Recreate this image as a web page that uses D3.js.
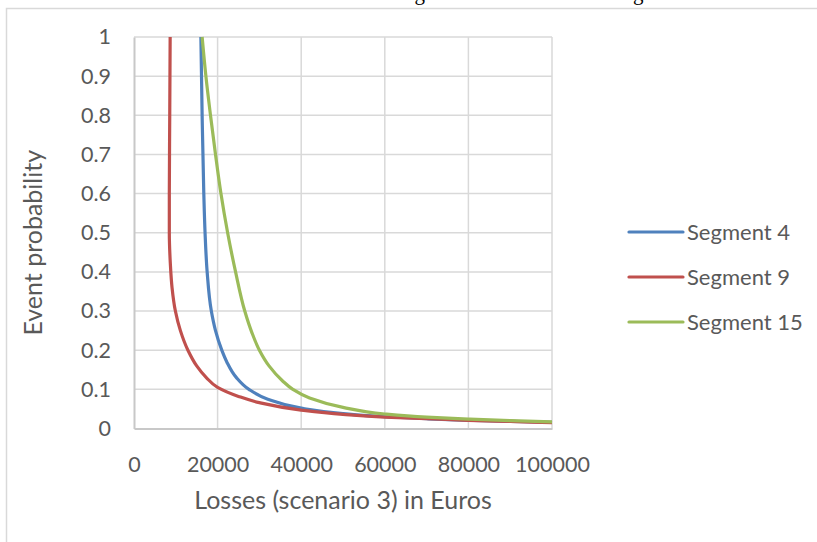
<!DOCTYPE html>
<html>
<head>
<meta charset="utf-8">
<script src="https://cdn.jsdelivr.net/npm/d3@7"></script>
<style>
  html, body { margin: 0; padding: 0; background: #fff; }
  svg { display: block; }
  .tick text { font-family: Lato, "Liberation Sans", sans-serif; fill: #595959; }
</style>
</head>
<body>
<svg id="chart" width="817" height="542"></svg>
<script>
// Loss curves: losses in Euros against event probability, one curve per segment
const seg4Loss  = [16000, 16300, 16700, 17000, 17500, 18500, 19500, 21000, 22200, 24500, 27500, 32000, 40000, 50000, 60000, 70000, 80000, 90000, 100000];
const seg4Prob  = [1.0,   0.8,   0.6,   0.5,   0.4,   0.3,   0.25,  0.2,   0.17,  0.13,  0.1,   0.075, 0.052, 0.038, 0.030, 0.025, 0.021, 0.018, 0.016];

const seg9Loss  = [8650, 8550, 8450, 8450, 8700, 9100, 9900, 11100, 12900, 15000, 17300, 20000, 25000, 30000, 40000, 50000, 60000, 70000, 80000, 90000, 100000];
const seg9Prob  = [1.0,  0.8,  0.6,  0.5,  0.42, 0.36, 0.3,  0.25,  0.2,   0.16,  0.13,  0.105, 0.082, 0.066, 0.047, 0.036, 0.029, 0.025, 0.021, 0.018, 0.015];

const seg15Loss = [16300, 17200, 18300, 19500, 20800, 22400, 24300, 26500, 28200, 30000, 32300, 35500, 38000, 42000, 50000, 60000, 70000, 80000, 90000, 100000];
const seg15Prob = [1.0,   0.9,   0.8,   0.7,   0.6,   0.5,   0.4,   0.3,   0.245, 0.2,   0.16,  0.122, 0.1,   0.078, 0.054, 0.037, 0.029, 0.024, 0.020, 0.017];

const seriesNames  = ["Segment 4", "Segment 9", "Segment 15"];
const seriesColors = ["#4f81bd", "#c0504d", "#9bbb59"];
const xTicks = [0, 20000, 40000, 60000, 80000, 100000];
const yTicks = [0, 0.1, 0.2, 0.3, 0.4, 0.5, 0.6, 0.7, 0.8, 0.9, 1];
const xTitle = "Losses (scenario 3) in Euros";
const yTitle = "Event probability";

const series = [
  { name: seriesNames[0], color: seriesColors[0], pts: d3.zip(seg4Loss, seg4Prob) },
  { name: seriesNames[1], color: seriesColors[1], pts: d3.zip(seg9Loss, seg9Prob) },
  { name: seriesNames[2], color: seriesColors[2], pts: d3.zip(seg15Loss, seg15Prob) }
];

const svg = d3.select("#chart");
const font = "Lato, 'Liberation Sans', sans-serif";
const textGrey = "#595959";

// Running text of the page above the chart frame (only its lowest strokes fall inside the view)
svg.append("text")
  .attr("x", 12).attr("y", -0.5)
  .attr("font-family", "'Liberation Serif', 'DejaVu Serif', serif")
  .attr("font-size", 21)
  .attr("fill", "#000")
  .text("of which the observation below is outlined in Figure 3.6 for each of the segments.");

// Chart frame
svg.append("rect")
  .attr("x", 6.5).attr("y", 8.5)
  .attr("width", 900).attr("height", 700)
  .attr("fill", "#fff")
  .attr("stroke", "#d9d9d9").attr("stroke-width", 1.5);

const plot = { left: 134, right: 552, top: 37, bottom: 428.5 };

const x = d3.scaleLinear().domain([0, 100000]).range([plot.left, plot.right]);
const y = d3.scaleLinear().domain([0, 1]).range([plot.bottom, plot.top]);

// Gridlines
const grid = svg.append("g").attr("stroke", "#d9d9d9").attr("stroke-width", 1.5);
grid.selectAll("line.h").data(yTicks.filter(d => d > 0)).join("line")
  .attr("x1", plot.left).attr("x2", plot.right)
  .attr("y1", d => y(d)).attr("y2", d => y(d));
grid.selectAll("line.v").data(xTicks.filter(d => d > 0)).join("line")
  .attr("x1", d => x(d)).attr("x2", d => x(d))
  .attr("y1", plot.top).attr("y2", plot.bottom);

// Axes
const xAxis = d3.axisBottom(x).tickValues(xTicks).tickSize(0).tickPadding(28).tickFormat(d3.format("d"));
const yAxis = d3.axisLeft(y).tickValues(yTicks).tickSize(0).tickPadding(23).tickFormat(d => d3.format("")(d));

const gx = svg.append("g").attr("transform", `translate(0,${plot.bottom})`).call(xAxis);
const gy = svg.append("g").attr("transform", `translate(${plot.left},0)`).call(yAxis);
[gx, gy].forEach(g => {
  g.select(".domain").attr("stroke", "#c8c8c8").attr("stroke-width", 2);
  g.selectAll(".tick text").attr("font-size", 21.5).attr("fill", textGrey);
});
gx.selectAll(".tick text").attr("dy", "0.71em");

// Axis titles
svg.append("text")
  .attr("x", x(50000)).attr("y", 509)
  .attr("text-anchor", "middle")
  .attr("font-family", font).attr("font-size", 25).attr("fill", textGrey)
  .text(xTitle);
svg.append("text")
  .attr("transform", `translate(42,${(plot.top + plot.bottom) / 2 + 10}) rotate(-90)`)
  .attr("text-anchor", "middle")
  .attr("font-family", font).attr("font-size", 25).attr("fill", textGrey)
  .text(yTitle);

// Curves (probability falls monotonically along each curve)
const line = d3.line()
  .x(d => x(d[0]))
  .y(d => y(d[1]))
  .curve(d3.curveMonotoneY);

svg.append("g").selectAll("path").data(series).join("path")
  .attr("d", d => line(d.pts))
  .attr("fill", "none")
  .attr("stroke", d => d.color)
  .attr("stroke-width", 3.2)
  .attr("stroke-linejoin", "round")
  .attr("stroke-linecap", "butt");

// Legend
const legend = svg.append("g").selectAll("g").data(series).join("g")
  .attr("transform", (d, i) => `translate(629,${[232, 277, 322][i]})`);
legend.append("line")
  .attr("x1", 0).attr("x2", 54)
  .attr("stroke", d => d.color).attr("stroke-width", 3.2).attr("stroke-linecap", "round");
legend.append("text")
  .attr("x", 58).attr("dy", "0.35em")
  .attr("font-family", font).attr("font-size", 22).attr("fill", textGrey)
  .text(d => d.name);
</script>
</body>
</html>
